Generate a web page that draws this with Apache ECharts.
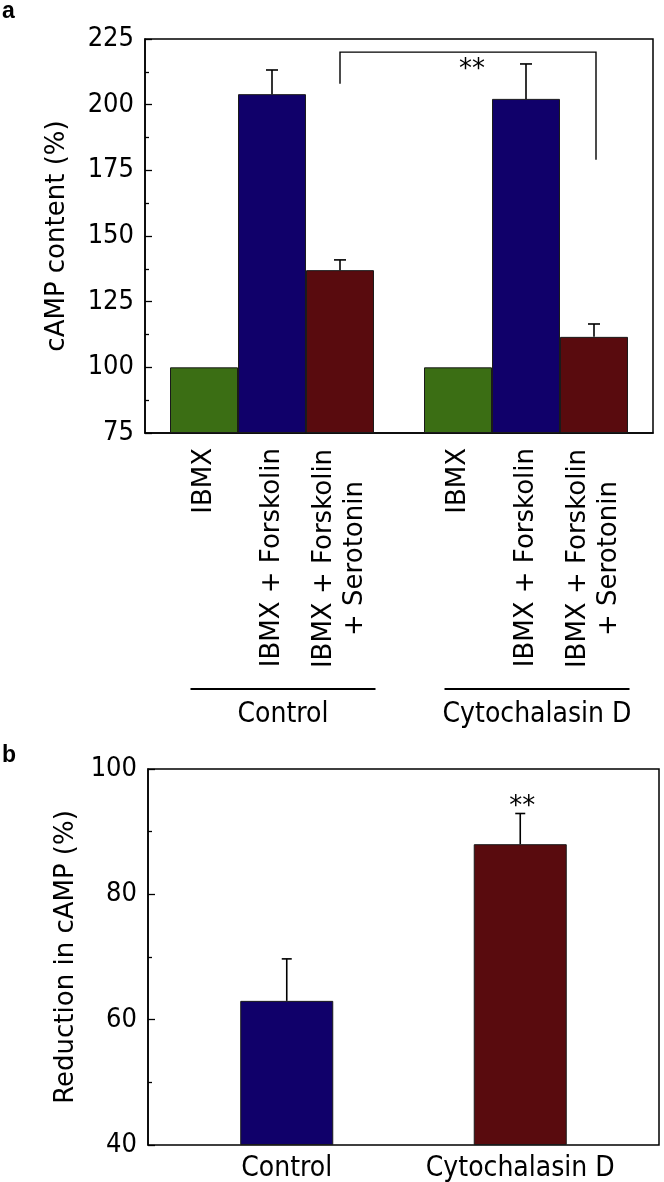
<!DOCTYPE html>
<html><head><meta charset="utf-8">
<script src="https://cdn.jsdelivr.net/npm/echarts@6/dist/echarts.min.js"></script>
<style>html,body{margin:0;padding:0;background:#fff}#c{width:664px;height:1182px}</style>
</head><body><div id="c"></div>
<script>
// ---------- Panel a data ----------
const groupsA = ['Control', 'Cytochalasin D'];
const treatmentsA = ['IBMX', 'IBMX + Forskolin', 'IBMX + Forskolin\n+ Serotonin'];
const ibmxVals = [100, 100];
const ibmxFskVals = [204, 202.2];
const ibmxFskSerVals = [137, 111.6];
const ibmxErr = [0, 0];
const ibmxFskErr = [9.2, 13.3];
const ibmxFskSerErr = [3.9, 4.9];
const yTicksA = [75, 100, 125, 150, 175, 200, 225];
const bracketLevelsA = [208, 220, 179]; // left foot, top, right foot
const bracketMarkA = '**';
const bracketMarkLevelA = 213;

// ---------- Panel b data ----------
const categoriesB = ['Control', 'Cytochalasin D'];
const reductionVals = [63, 88];
const reductionErr = [6.7, 4.9];
const sigB = ['', '**'];
const yTicksB = [40, 60, 80, 100];

// ---------- styling ----------
const FONT = 'DejaVu Sans';
const FONT_H = "'DejaVu Sans Condensed', 'DejaVu Sans'";
const COLORS_A = ['#3b6e14', '#10006a', '#590b0e'];
const COLORS_B = ['#10006a', '#590b0e'];
const BAR_FRAC_A = 68 / 254;
const BAR_FRAC_B = 93 / 233.5;
const BLACK = '#000';

const chart = echarts.init(document.getElementById('c'), null, {renderer: 'canvas'});

const valsA = [ibmxVals, ibmxFskVals, ibmxFskSerVals];
const errsA = [ibmxErr, ibmxFskErr, ibmxFskSerErr];

const barSeriesA = treatmentsA.map((name, k) => {
  const lines = name.split('\n');
  const multi = lines.length > 1;
  return {
    type: 'bar', name: name, xAxisIndex: 0, yAxisIndex: 0,
    data: valsA[k],
    barWidth: (BAR_FRAC_A * 100).toFixed(2) + '%',
    barGap: '0%',
    itemStyle: {color: COLORS_A[k], borderColor: '#1a1a1a', borderWidth: 1},
    label: {
      show: true, position: 'bottom', distance: 15, rotate: 90,
      align: 'right', verticalAlign: 'middle',
      fontSize: 26, fontFamily: FONT, color: BLACK,
      formatter: () => multi ? lines.map(s => '{w|' + s + '}').join('\n') : name,
      rich: {w: {width: 221, align: 'center', fontSize: 26, lineHeight: 31, fontFamily: FONT, color: BLACK}}
    }
  };
});

const errDataA = [];
valsA.forEach((vals, k) => vals.forEach((v, c) => errDataA.push([c, v, errsA[k][c], k])));

const errSeriesA = {
  type: 'custom', xAxisIndex: 0, yAxisIndex: 0, data: errDataA, encode: {x: 0, y: 1},
  z: 5, silent: true, clip: false,
  renderItem(params, api) {
    const c = api.value(0), v = api.value(1), e = api.value(2), k = api.value(3);
    if (!(e > 0)) return null;
    const band = api.size([1, 0])[0];
    const p0 = api.coord([c, v]), p1 = api.coord([c, v + e]);
    const x = p0[0] + (k - 1) * band * BAR_FRAC_A;
    const hw = 6;
    const st = {stroke: BLACK, lineWidth: 1.6};
    return {type: 'group', children: [
      {type: 'line', shape: {x1: x, y1: p0[1], x2: x, y2: p1[1]}, style: st},
      {type: 'line', shape: {x1: x - hw, y1: p1[1], x2: x + hw, y2: p1[1]}, style: st}
    ]};
  }
};

const bracketSeriesA = {
  type: 'custom', xAxisIndex: 0, yAxisIndex: 0, data: [[0, bracketLevelsA[1]]], encode: {x: 0, y: 1},
  z: 6, silent: true, clip: false,
  renderItem(params, api) {
    const band = api.size([1, 0])[0];
    const off = (2 - 1) * band * BAR_FRAC_A;
    const xL = api.coord([0, bracketLevelsA[1]])[0] + off;
    const xR = api.coord([1, bracketLevelsA[1]])[0] + off + 2;
    const yLF = api.coord([0, bracketLevelsA[0]])[1];
    const yT = api.coord([0, bracketLevelsA[1]])[1];
    const yRF = api.coord([0, bracketLevelsA[2]])[1];
    const yM = api.coord([0, bracketMarkLevelA])[1];
    return {type: 'group', children: [
      {type: 'polyline', shape: {points: [[xL, yLF], [xL, yT], [xR, yT], [xR, yRF]]},
       style: {stroke: BLACK, lineWidth: 1.4, fill: 'none'}},
      {type: 'text', x: (xL + xR) / 2 + 4, y: yM,
       style: {text: bracketMarkA, align: 'center', verticalAlign: 'middle', fontSize: 26, fontFamily: FONT, fill: BLACK}}
    ]};
  }
};

const barSeriesB = {
  type: 'bar', xAxisIndex: 2, yAxisIndex: 2,
  data: reductionVals.map((v, i) => ({value: v, itemStyle: {color: COLORS_B[i]}})),
  barWidth: (BAR_FRAC_B * 100).toFixed(2) + '%',
  itemStyle: {borderColor: '#1a1a1a', borderWidth: 1}
};

const errSeriesB = {
  type: 'custom', xAxisIndex: 2, yAxisIndex: 2,
  data: reductionVals.map((v, i) => [i, v, reductionErr[i]]), encode: {x: 0, y: 1},
  z: 5, silent: true, clip: false,
  renderItem(params, api) {
    const c = api.value(0), v = api.value(1), e = api.value(2);
    const p0 = api.coord([c, v]), p1 = api.coord([c, v + e]);
    const x = p0[0], hw = 5;
    const st = {stroke: BLACK, lineWidth: 1.6};
    const ch = [
      {type: 'line', shape: {x1: x, y1: p0[1], x2: x, y2: p1[1]}, style: st},
      {type: 'line', shape: {x1: x - hw, y1: p1[1], x2: x + hw, y2: p1[1]}, style: st}
    ];
    const s = sigB[params.dataIndex];
    if (s) ch.push({type: 'text', x: x + 2, y: p1[1] - 6,
      style: {text: s, align: 'center', verticalAlign: 'middle', fontSize: 26, fontFamily: FONT, fill: BLACK}});
    return {type: 'group', children: ch};
  }
};

function valueAxis(grid, ticks, name, nameGap) {
  return {
    gridIndex: grid, type: 'value', min: ticks[0], max: ticks[ticks.length - 1],
    interval: ticks[1] - ticks[0], startValue: ticks[0],
    axisLine: {show: true, lineStyle: {color: BLACK, width: 1.5}},
    axisTick: {show: true, inside: true, length: 7, lineStyle: {color: BLACK, width: 1.3}},
    minorTick: {show: true, splitNumber: 2, length: 4, lineStyle: {color: BLACK, width: 1.3}},
    splitLine: {show: false},
    axisLabel: {fontSize: 27, margin: 11, color: BLACK, fontFamily: FONT_H},
    name: name, nameLocation: 'middle', nameGap: nameGap, nameRotate: 90,
    nameTextStyle: {fontSize: 26, fontFamily: FONT, color: BLACK}
  };
}

const option = {
  animation: false,
  backgroundColor: '#fff',
  title: [
    {text: 'a', left: 2, top: 0, padding: 0, textStyle: {fontSize: 23, fontWeight: 'bold', fontFamily: 'Liberation Sans', color: BLACK}},
    {text: 'b', left: 2, top: 744, padding: 0, textStyle: {fontSize: 23, fontWeight: 'bold', fontFamily: 'Liberation Sans', color: BLACK}}
  ],
  grid: [
    {left: 145, top: 39, width: 508, height: 394, show: true, borderColor: BLACK, borderWidth: 1.5, outerBoundsMode: 'none', containLabel: false},
    {left: 148, top: 769, width: 511, height: 376, show: true, borderColor: BLACK, borderWidth: 1.5, outerBoundsMode: 'none', containLabel: false},
    {left: 170, top: 769, width: 467, height: 376, outerBoundsMode: 'none', containLabel: false}
  ],
  xAxis: [
    {gridIndex: 0, type: 'category', data: groupsA,
     axisTick: {show: false}, axisLine: {show: true, lineStyle: {color: BLACK, width: 1.5}},
     axisLabel: {interval: 0, margin: 255, padding: [0, 0, 0, 22], color: BLACK, fontFamily: FONT_H, fontSize: 28,
       formatter: v => '{ln| }\n{nm|' + v + '}',
       rich: {ln: {width: 185, height: 2, lineHeight: 2, backgroundColor: BLACK, fontSize: 2},
              nm: {fontSize: 28, lineHeight: 50, fontFamily: FONT_H, color: BLACK}}}},
    {gridIndex: 1, type: 'value', show: false, min: 0, max: 1},
    {gridIndex: 2, type: 'category', data: categoriesB,
     axisTick: {show: false}, axisLine: {show: false},
     axisLabel: {interval: 0, fontSize: 28, margin: 10, fontFamily: FONT_H, color: BLACK}}
  ],
  yAxis: [
    valueAxis(0, yTicksA, 'cAMP content (%)', 75),
    valueAxis(1, yTicksB, 'Reduction in cAMP (%)', 66),
    {gridIndex: 2, type: 'value', min: yTicksB[0], max: yTicksB[yTicksB.length - 1], startValue: yTicksB[0], show: false}
  ],
  series: [...barSeriesA, errSeriesA, bracketSeriesA, barSeriesB, errSeriesB]
};
chart.setOption(option);
</script>
</body></html>
